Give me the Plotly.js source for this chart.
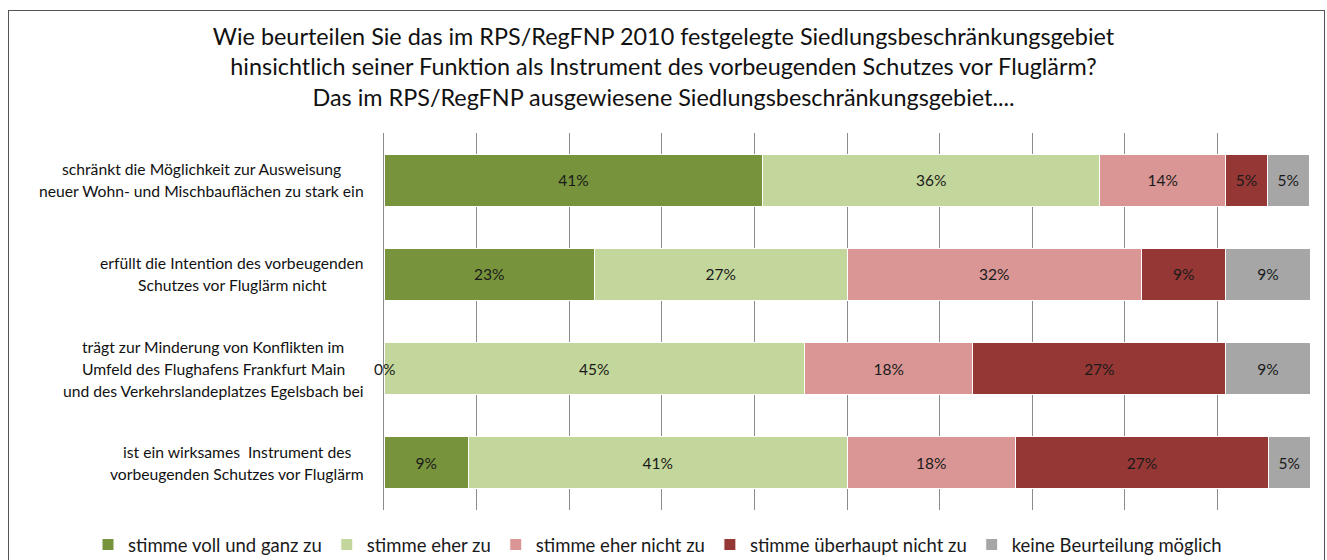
<!DOCTYPE html>
<html>
<head>
<meta charset="utf-8">
<script src="https://cdn.plot.ly/plotly-3.0.1.min.js"></script>
<style>
  html, body { margin: 0; padding: 0; background: #fff; overflow: hidden; }
  #chart { position: absolute; left: 0; top: 0; width: 1327px; height: 560px; }
  #frame { position: absolute; left: 8px; top: 10px; width: 1315px; height: 700px;
           border: 1px solid #555; pointer-events: none; }
</style>
</head>
<body>
<div id="chart"></div>
<div id="frame"></div>
<script>
const titleLines = [
  "Wie beurteilen Sie das im RPS/RegFNP 2010 festgelegte Siedlungsbeschränkungsgebiet",
  "hinsichtlich seiner Funktion als Instrument des vorbeugenden Schutzes vor Fluglärm?",
  "Das im RPS/RegFNP ausgewiesene Siedlungsbeschränkungsgebiet...."
];

const categories = [
  "schränkt die Möglichkeit zur Ausweisung<br>neuer Wohn- und Mischbauflächen zu stark ein",
  "erfüllt die Intention des vorbeugenden<br>Schutzes vor Fluglärm nicht",
  "trägt zur Minderung von Konflikten im<br>Umfeld des Flughafens Frankfurt Main<br>und des Verkehrslandeplatzes Egelsbach bei",
  "ist ein wirksames  Instrument des<br>vorbeugenden Schutzes vor Fluglärm"
];

const seriesNames = [
  "stimme voll und ganz zu",
  "stimme eher zu",
  "stimme eher nicht zu",
  "stimme überhaupt nicht zu",
  "keine Beurteilung möglich"
];

const stimmeVoll       = [40.9, 22.7, 0.0,  9.1];
const stimmeEher       = [36.4, 27.3, 45.4, 40.9];
const stimmeEherNicht  = [13.6, 31.8, 18.2, 18.2];
const stimmeUeberhaupt = [4.5,  9.1,  27.3, 27.3];
const keineBeurteilung = [4.5,  9.1,  9.1,  4.5];

const seriesValues = [stimmeVoll, stimmeEher, stimmeEherNicht, stimmeUeberhaupt, keineBeurteilung];
const seriesColors = ["#77933C", "#C3D69B", "#D99694", "#953735", "#A6A6A6"];

const FONT = "Lato, 'Open Sans', sans-serif";
const LABEL_SIZE = 15.7;
const VALUE_SIZE = 15.5;

const traces = seriesValues.map((vals, i) => ({
  type: "bar",
  orientation: "h",
  name: seriesNames[i],
  y: categories,
  x: vals,
  width: 0.55,
  marker: { color: seriesColors[i], line: { color: "#ffffff", width: 1 } },
  text: vals.map(v => v > 0 ? Math.round(v) + "%" : ""),
  textposition: "inside",
  insidetextanchor: "middle",
  textangle: 0,
  insidetextfont: { family: FONT, size: VALUE_SIZE, color: "#1a1a1a" },
  hoverinfo: "name+x"
}));

const layout = {
  width: 1327, height: 560,
  margin: { l: 384, r: 17, t: 133, b: 50, autoexpand: false },
  paper_bgcolor: "rgba(0,0,0,0)",
  plot_bgcolor: "rgba(0,0,0,0)",
  font: { family: FONT, color: "#111" },
  title: {
    text: titleLines.join("<br>"),
    font: { family: FONT, size: 23.4, color: "#111" },
    x: 0.5, xref: "container", xanchor: "center",
    y: 1 - 45 / 560, yref: "container", yanchor: "middle"
  },
  barmode: "stack",
  xaxis: {
    range: [0, 100], dtick: 10, showticklabels: false,
    showgrid: true, gridcolor: "#8c8c8c", gridwidth: 1,
    zeroline: false, showline: false, ticks: "", fixedrange: true
  },
  yaxis: {
    type: "category", autorange: "reversed", showticklabels: false,
    showgrid: false, zeroline: false,
    showline: true, linecolor: "#8c8c8c", linewidth: 1, ticks: "", fixedrange: true
  },
  showlegend: true,
  legend: {
    orientation: "h", traceorder: "normal",
    xref: "paper", x: (88 - 384) / 926, xanchor: "left",
    yref: "paper", y: -(545 - 510) / 377, yanchor: "middle",
    font: { family: FONT, size: 18.5, color: "#1a1a1a" },
    itemclick: false, itemdoubleclick: false
  },
  annotations: [],
  hovermode: false
};

// Category labels: every line centred on its label's own centre, block right-aligned near the axis
const ctx = document.createElement("canvas").getContext("2d");
const plotLeftPx = layout.margin.l;
const plotW = layout.width - layout.margin.l - layout.margin.r;
const rightEdgePx = plotLeftPx - 20;
const lineGap = 22;
const annotations = [];

function buildAnnotations() {
  ctx.font = LABEL_SIZE + "px Lato";
  categories.forEach(cat => {
    const lines = cat.split("<br>");
    const w = Math.max(...lines.map(l => ctx.measureText(l).width));
    const centerPx = rightEdgePx - w / 2;
    lines.forEach((ln, li) => {
      annotations.push({
        xref: "paper", yref: "y",
        x: (centerPx - plotLeftPx) / plotW, y: cat,
        xanchor: "center", yanchor: "middle",
        text: ln, showarrow: false,
        yshift: ((lines.length - 1) / 2 - li) * lineGap,
        font: { family: FONT, size: LABEL_SIZE, color: "#111" }
      });
    });
  });
  // zero-value labels drawn at the bar start
  seriesValues.forEach((vals, si) => {
    vals.forEach((v, ci) => {
      if (v === 0) {
        let cum = 0;
        for (let k = 0; k < si; k++) cum += seriesValues[k][ci];
        annotations.push({
          xref: "x", yref: "y", x: cum, y: categories[ci],
          xanchor: "center", yanchor: "middle",
          text: "0%", showarrow: false,
          font: { family: FONT, size: VALUE_SIZE, color: "#1a1a1a" }
        });
      }
    });
  });
  layout.annotations = annotations;
}

const ready = document.fonts ? document.fonts.load(LABEL_SIZE + "px Lato") : Promise.resolve();
ready.finally(() => {
  buildAnnotations();
  Plotly.newPlot("chart", traces, layout, { displayModeBar: false, staticPlot: true });
});
</script>
</body>
</html>
